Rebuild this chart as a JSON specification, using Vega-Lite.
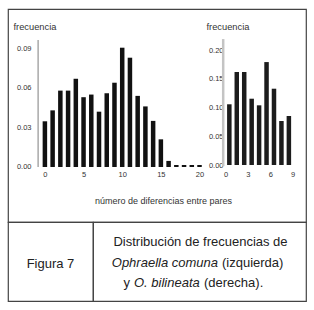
{
  "$schema": "https://vega.github.io/schema/vega-lite/v6.json",
  "padding": {"left": 7, "top": 8, "right": 0, "bottom": 0},
  "spacing": 0,
  "bounds": "flush",
  "config": {
    "font": "Liberation Sans",
    "view": {"stroke": "#444", "strokeWidth": 1.2},
    "axis": {"labelColor": "#333", "titleColor": "#333", "labelFont": "Liberation Sans", "titleFont": "Liberation Sans"}
  },
  "vconcat": [
    {
      "width": 298,
      "height": 213,
      "layer": [
        {
          "data": {"values": [
            {"d": 0, "f": 0.0347}, {"d": 1, "f": 0.043}, {"d": 2, "f": 0.058}, {"d": 3, "f": 0.058},
            {"d": 4, "f": 0.067}, {"d": 5, "f": 0.053}, {"d": 6, "f": 0.055}, {"d": 7, "f": 0.042},
            {"d": 8, "f": 0.056}, {"d": 9, "f": 0.064}, {"d": 10, "f": 0.0906}, {"d": 11, "f": 0.083},
            {"d": 12, "f": 0.054}, {"d": 13, "f": 0.046}, {"d": 14, "f": 0.035}, {"d": 15, "f": 0.021},
            {"d": 16, "f": 0.0046}, {"d": 17, "f": 0.0015}, {"d": 18, "f": 0.0015}, {"d": 19, "f": 0.0015},
            {"d": 20, "f": 0.0015}
          ]},
          "layer": [
            {
              "data": {"values": [{"a": 1}]},
              "mark": {"type": "rule", "color": "#a8a8a8", "strokeWidth": 1.5},
              "encoding": {
                "x": {"datum": -0.875, "type": "quantitative"},
                "y": {"datum": 0, "type": "quantitative"},
                "y2": {"datum": 0.0965}
              }
            },
            {
              "mark": {"type": "bar", "width": 4.5, "color": "#111"},
              "encoding": {
                "x": {
                  "field": "d", "type": "quantitative",
                  "scale": {"domain": [-4.125, 33.125], "nice": false, "zero": false},
                  "axis": {
                    "orient": "bottom", "offset": -55, "values": [0, 5, 10, 15, 20],
                    "domain": false, "ticks": false, "grid": false,
                    "labelPadding": 3.3, "labelFontSize": 7.5,
                    "title": "número de diferencias entre pares",
                    "titleX": 155, "titleY": 33, "titleAlign": "center", "titleBaseline": "middle",
                    "titleFontSize": 9, "titleFontWeight": "normal"
                  }
                },
                "y": {
                  "field": "f", "type": "quantitative",
                  "scale": {"domain": [-0.0418, 0.12], "nice": false, "zero": false},
                  "axis": {
                    "orient": "left", "offset": -26, "values": [0, 0.03, 0.06, 0.09], "format": ".2f",
                    "domain": false, "ticks": false, "grid": false,
                    "labelPadding": 3, "labelFontSize": 7.5,
                    "title": "frecuencia", "titleAngle": 0, "titleAlign": "left", "titleBaseline": "middle",
                    "titleX": -21, "titleY": 17, "titleFontSize": 9.3, "titleFontWeight": "normal"
                  }
                },
                "y2": {"datum": 0}
              }
            }
          ]
        },
        {
          "data": {"values": [
            {"d": 0.5, "f": 0.1056}, {"d": 1.5, "f": 0.1617}, {"d": 2.5, "f": 0.1617},
            {"d": 3.5, "f": 0.1153}, {"d": 4.5, "f": 0.1038}, {"d": 5.5, "f": 0.179},
            {"d": 6.5, "f": 0.1327}, {"d": 7.5, "f": 0.0765}, {"d": 8.5, "f": 0.0852}
          ]},
          "layer": [
            {
              "data": {"values": [{"a": 1}]},
              "mark": {"type": "rule", "color": "#c4c4c4", "strokeWidth": 2.5},
              "encoding": {
                "x": {"datum": -0.325, "type": "quantitative"},
                "y": {"datum": -0.002, "type": "quantitative"},
                "y2": {"datum": 0.219}
              }
            },
            {
              "mark": {"type": "bar", "width": 4.5, "color": "#1c1c1c"},
              "encoding": {
                "x": {
                  "field": "d", "type": "quantitative",
                  "scale": {"domain": [-28.57, 10.13], "nice": false, "zero": false},
                  "axis": {
                    "orient": "bottom", "offset": -57, "values": [0, 3, 6, 9],
                    "domain": false, "ticks": false, "grid": false,
                    "labelPadding": 5, "labelFontSize": 7.5, "title": null
                  }
                },
                "y": {
                  "field": "f", "type": "quantitative",
                  "scale": {"domain": [-0.0991, 0.2713], "nice": false, "zero": false},
                  "axis": {
                    "orient": "left", "offset": -217.5, "values": [0, 0.05, 0.1, 0.15, 0.2], "format": ".2f",
                    "domain": false, "ticks": false, "grid": false,
                    "labelPadding": 2.5, "labelFontSize": 7.5,
                    "title": "frecuencia", "titleAngle": 0, "titleAlign": "left", "titleBaseline": "middle",
                    "titleX": -19.5, "titleY": 17, "titleFontSize": 9.3, "titleFontWeight": "normal"
                  }
                },
                "y2": {"datum": 0}
              }
            }
          ]
        }
      ],
      "resolve": {
        "scale": {"x": "independent", "y": "independent"},
        "axis": {"x": "independent", "y": "independent"}
      }
    },
    {
      "hconcat": [
        {
          "width": 85,
          "height": 79,
          "data": {"values": [{"line": 2, "t": "Figura 7"}]},
          "mark": {"type": "text", "fontSize": 13, "color": "#222", "dy": 2.5},
          "encoding": {
            "y": {"field": "line", "type": "ordinal", "axis": null, "scale": {"type": "point", "domain": [1, 2, 3], "padding": 0.95}},
            "text": {"field": "t"}
          }
        },
        {
          "width": 213,
          "height": 79,
          "data": {"values": [
            {"line": 1, "seg": "a", "text": "Distribución de frecuencias de"},
            {"line": 2, "seg": "i", "text": "Ophraella comuna"},
            {"line": 2, "seg": "b", "text": "(izquierda)"},
            {"line": 3, "seg": "c", "text": "y"},
            {"line": 3, "seg": "j", "text": "O. bilineata"},
            {"line": 3, "seg": "d", "text": "(derecha)."}
          ]},
          "encoding": {
            "y": {"field": "line", "type": "ordinal", "axis": null, "scale": {"type": "point", "padding": 0.95}},
            "text": {"field": "text"}
          },
          "layer": [
            {"transform": [{"filter": "datum.seg == 'a'"}], "mark": {"type": "text", "fontSize": 13, "color": "#222", "align": "center", "dx": 1, "dy": 1}},
            {"transform": [{"filter": "datum.seg == 'i'"}], "mark": {"type": "text", "fontSize": 13, "color": "#222", "fontStyle": "italic", "align": "right", "dx": 18.5, "dy": 1}},
            {"transform": [{"filter": "datum.seg == 'b'"}], "mark": {"type": "text", "fontSize": 13, "color": "#222", "align": "left", "dx": 22.5, "dy": 1}},
            {"transform": [{"filter": "datum.seg == 'c'"}], "mark": {"type": "text", "fontSize": 13, "color": "#222", "align": "left", "dx": -76, "dy": 1}},
            {"transform": [{"filter": "datum.seg == 'j'"}], "mark": {"type": "text", "fontSize": 13, "color": "#222", "fontStyle": "italic", "align": "left", "dx": -65.5, "dy": 1}},
            {"transform": [{"filter": "datum.seg == 'd'"}], "mark": {"type": "text", "fontSize": 13, "color": "#222", "align": "left", "dx": 4.5, "dy": 1}}
          ]
        }
      ],
      "spacing": 0,
      "bounds": "flush"
    }
  ]
}
